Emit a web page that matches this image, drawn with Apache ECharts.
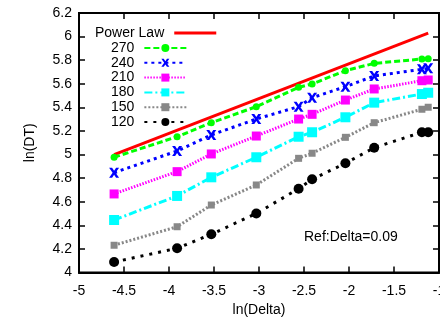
<!DOCTYPE html>
<html>
<head>
<meta charset="utf-8">
<script src="https://cdn.jsdelivr.net/npm/echarts@6/dist/echarts.min.js"></script>
<style>html,body{margin:0;padding:0;background:#fff;}#c{width:440px;height:324px;}</style>
</head>
<body>
<div id="c"></div>
<script>
var xLnDelta = [-4.61, -3.91, -3.53, -3.03, -2.56, -2.41, -2.04, -1.72, -1.19, -1.12];
var s270 = [4.977, 5.151, 5.270, 5.406, 5.570, 5.598, 5.711, 5.773, 5.810, 5.813];
var s240 = [4.846, 5.030, 5.166, 5.301, 5.406, 5.482, 5.575, 5.666, 5.723, 5.731];
var s210 = [4.666, 4.855, 5.005, 5.157, 5.301, 5.341, 5.462, 5.556, 5.626, 5.632];
var s180 = [4.445, 4.649, 4.807, 4.977, 5.151, 5.189, 5.316, 5.440, 5.513, 5.524];
var s150 = [4.231, 4.388, 4.572, 4.742, 4.968, 5.011, 5.146, 5.270, 5.384, 5.401];
var s120 = [4.089, 4.205, 4.324, 4.500, 4.710, 4.790, 4.926, 5.058, 5.189, 5.189];
var powerLawX = [-4.61, -1.12];
var powerLawY = [5.0, 6.03];
var seriesNames = ['270', '240', '210', '180', '150', '120'];
var annotation = 'Ref:Delta=0.09';

function pairs(xs, ys) { return xs.map(function (x, i) { return [x, ys[i]]; }); }

var FONT = 'Liberation Sans, Arial, sans-serif';
var crossPath = 'path://M0,0 L3,0 L5,3 L7,0 L10,0 L6.5,5 L10,10 L7,10 L5,7 L3,10 L0,10 L3.5,5 Z';

var styles = [
  {color: '#00ff00', type: [6, 3], symbol: 'circle', size: 7},
  {color: '#0000ff', type: [3, 4], symbol: crossPath, size: 10},
  {color: '#ff00ff', type: [1.5, 1.5], symbol: 'rect', size: 9},
  {color: '#00ffff', type: [8, 3, 2, 3], symbol: 'rect', size: 10},
  {color: '#888888', type: [2, 2], symbol: 'rect', size: 7},
  {color: '#000000', type: [3, 6], symbol: 'circle', size: 10}
];
var dataSets = [s270, s240, s210, s180, s150, s120];

var series = [{
  name: 'Power Law', type: 'line', data: pairs(powerLawX, powerLawY),
  symbol: 'none', lineStyle: {color: '#ff0000', width: 3}, itemStyle: {color: '#ff0000'}, z: 2
}];
seriesNames.forEach(function (n, i) {
  var st = styles[i];
  series.push({
    name: n, type: 'line', data: pairs(xLnDelta, dataSets[i]),
    symbol: st.symbol, symbolSize: st.size, showSymbol: true,
    lineStyle: {color: st.color, width: 3, type: st.type},
    itemStyle: {color: st.color}, z: 3
  });
});

var chart = echarts.init(document.getElementById('c'), null, {renderer: 'canvas'});
chart.setOption({
  animation: false,
  backgroundColor: '#fff',
  grid: {left: 79, right: 1, top: 13, bottom: 51.5, show: true, borderColor: '#000', borderWidth: 2,
         backgroundColor: 'transparent', containLabel: false, outerBoundsMode: 'none'},
  legend: [{
    data: [{name: 'Power Law', icon: 'rect'}], orient: 'vertical', left: 90, top: 21, align: 'right',
    itemWidth: 42, itemHeight: 3, itemGap: 1,
    textStyle: {fontFamily: FONT, fontSize: 14, color: '#000', padding: [0, 5, 0, 0]}
  }, {
    data: seriesNames, orient: 'vertical', left: 106, top: 36, align: 'right',
    itemWidth: 42, itemHeight: 10, itemGap: 0.8,
    textStyle: {fontFamily: FONT, fontSize: 14, color: '#000', lineHeight: 14, padding: [0, 5, 0, 0]}
  }],
  xAxis: [{
    type: 'value', min: -5, max: -1, interval: 0.5, position: 'bottom',
    name: 'ln(Delta)', nameLocation: 'middle', nameGap: 29,
    nameTextStyle: {fontFamily: FONT, fontSize: 14, color: '#000'},
    axisLine: {show: true, lineStyle: {color: '#000', width: 2}},
    axisTick: {show: true, inside: true, length: 6, lineStyle: {color: '#000', width: 1.5}},
    axisLabel: {fontFamily: FONT, fontSize: 14, color: '#000', margin: 12, hideOverlap: false},
    splitLine: {show: false}
  }, {
    type: 'value', min: -5, max: -1, interval: 0.5, position: 'top',
    axisLine: {show: true, lineStyle: {color: '#000', width: 2}},
    axisTick: {show: true, inside: true, length: 6, lineStyle: {color: '#000', width: 1.5}},
    axisLabel: {show: false}, splitLine: {show: false}
  }],
  yAxis: [{
    type: 'value', min: 4, max: 6.2, interval: 0.2, position: 'left',
    name: 'ln(DT)', nameLocation: 'middle', nameGap: 42,
    nameTextStyle: {fontFamily: FONT, fontSize: 14, color: '#000'},
    axisLine: {show: true, lineStyle: {color: '#000', width: 2}},
    axisTick: {show: true, inside: true, length: 6, lineStyle: {color: '#000', width: 1.5}},
    axisLabel: {fontFamily: FONT, fontSize: 14, color: '#000', margin: 7},
    splitLine: {show: false}
  }, {
    type: 'value', min: 4, max: 6.2, interval: 0.2, position: 'right',
    axisLine: {show: true, lineStyle: {color: '#000', width: 2}},
    axisTick: {show: true, inside: true, length: 6, lineStyle: {color: '#000', width: 1.5}},
    axisLabel: {show: false}, splitLine: {show: false}
  }],
  graphic: [{
    type: 'text', left: 304, top: 230,
    style: {text: annotation, font: '14px ' + FONT, fill: '#000'}
  }],
  series: series
});
</script>
</body>
</html>
